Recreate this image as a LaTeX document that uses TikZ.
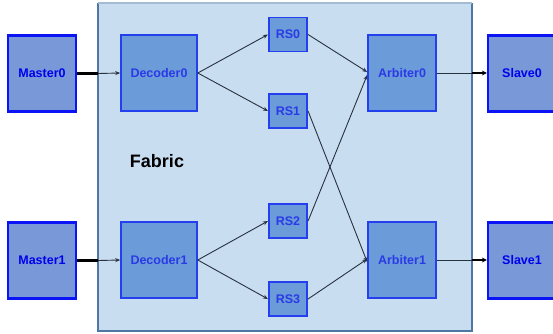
\documentclass[tikz,border=0pt]{standalone}
\usepackage{fontspec}
\setmainfont{Liberation Sans}
\usetikzlibrary{arrows.meta}

\definecolor{fabricfill}{HTML}{C9DDF1}
\definecolor{fabricedge}{HTML}{4E78A3}
\definecolor{fabrictop}{HTML}{A3BBD3}
\definecolor{outerfill}{HTML}{7898D8}
\definecolor{outeredge}{HTML}{0A14F5}
\definecolor{innerfill}{HTML}{6B9BD8}
\definecolor{inneredge}{HTML}{2440EE}
\definecolor{innertext}{HTML}{2A3AE6}
\definecolor{wire}{HTML}{27323F}

\tikzset{
  outerbox/.style={draw=outeredge, fill=outerfill, line width=2.2pt,
    minimum width=68pt, minimum height=76pt, inner sep=0pt,
    text=blue!93!black, font=\bfseries\fontsize{12.5}{15}\selectfont},
  innerbox/.style={draw=inneredge, fill=innerfill, line width=1.6pt,
    minimum width=76pt, minimum height=76pt, inner sep=0pt,
    text=innertext, font=\bfseries\fontsize{12.5}{15}\selectfont},
  rsbox/.style={draw=inneredge, fill=innerfill, line width=1.6pt,
    minimum width=38.5pt, minimum height=34pt, inner sep=0pt,
    text=innertext, font=\bfseries\fontsize{12.5}{15}\selectfont},
  thinwire/.style={draw=wire, line width=0.9pt, -{Stealth[length=5pt,width=4pt]}},
  thinline/.style={draw=wire, line width=0.9pt},
  thickline/.style={draw=black, line width=2.2pt},
  thickwire/.style={draw=black, line width=2.2pt, -{Stealth[length=5pt,width=5pt]}},
}

\begin{document}
\begin{tikzpicture}[x=1pt, y=-1pt]
  \useasboundingbox (0,0) rectangle (553,333);

  % fabric region
  \fill[fabricfill] (98,3) rectangle (472,331);
  \draw[fabricedge, line width=1.6pt] (98,3) -- (98,331) -- (472,331) -- (472,3);
  \draw[fabrictop, line width=1.6pt] (98,3) -- (472,3);
  \node[font=\bfseries\fontsize{18}{21}\selectfont, anchor=center] (fabric) at (157,161) {Fabric};

  % masters and slaves
  \node[outerbox] (m0) at (42,73.5) {Master0};
  \node[outerbox] (m1) at (42,260.5) {Master1};
  \node[outerbox] (s0) at (522,73.5) {Slave0};
  \node[outerbox] (s1) at (522,260.5) {Slave1};

  % decoders and arbiters
  \node[innerbox] (d0) at (159,73) {Decoder0};
  \node[innerbox] (d1) at (159,260) {Decoder1};
  \node[innerbox, minimum width=68pt] (a0) at (402,73) {Arbiter0};
  \node[innerbox, minimum width=68pt] (a1) at (402,260) {Arbiter1};

  % register slices
  \node[rsbox] (rs0) at (288,34.5) {RS0};
  \node[rsbox] (rs1) at (288,111) {RS1};
  \node[rsbox] (rs2) at (288,221) {RS2};
  \node[rsbox] (rs3) at (288,299) {RS3};

  % boundary crossing points on the fabric edge
  \coordinate (in0) at (98,73);
  \coordinate (out0) at (472,73);

  % master -> decoder
  \draw[thickline] (m0.east) -- (m0.east -| in0);
  \draw[thinwire] (m0.east -| in0) -- (d0.west);
  \draw[thickline] (m1.east) -- (m1.east -| in0);
  \draw[thinwire] (m1.east -| in0) -- (d1.west);

  % decoder -> register slices
  \draw[thinwire] (d0.east) -- (rs0.west);
  \draw[thinwire] (d0.east) -- (rs1.west);
  \draw[thinwire] (d1.east) -- (rs2.west);
  \draw[thinwire] (d1.east) -- (rs3.west);

  % register slices -> arbiters
  \draw[thinwire] (rs0.east) -- ([yshift=1pt]a0.west);
  \draw[thinwire] (rs2.east) -- ([yshift=-2pt]a0.west);
  \draw[thinwire] (rs1.east) -- ([yshift=-2pt]a1.west);
  \draw[thinwire] (rs3.east) -- ([yshift=1pt]a1.west);

  % arbiter -> slave
  \draw[thinline] (a0.east) -- (a0.east -| out0);
  \draw[thickwire] (a0.east -| out0) -- (s0.west |- a0.east);
  \draw[thinline] (a1.east) -- (a1.east -| out0);
  \draw[thickwire] (a1.east -| out0) -- (s1.west |- a1.east);
\end{tikzpicture}
\end{document}
